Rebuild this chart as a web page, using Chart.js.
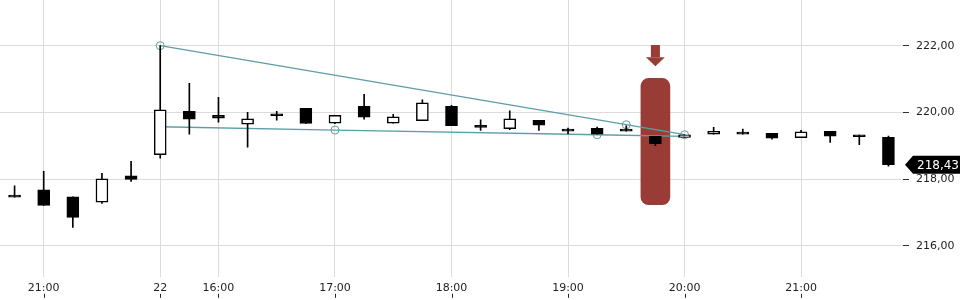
<!DOCTYPE html>
<html>
<head>
<meta charset="utf-8">
<script src="https://cdn.jsdelivr.net/npm/chart.js@4.4.0/dist/chart.umd.min.js"></script>
<style>
  body { margin: 0; background: #fff; }
  #wrap { width: 960px; height: 300px; }
</style>
</head>
<body>
<div id="wrap"><canvas id="myChart"></canvas></div>
<script>
// data

const times = ['20:45', '21:00', '21:15', '21:30', '21:45', '15:30', '15:45', '16:00', '16:15', '16:30', '16:45',
  '17:00', '17:15', '17:30', '17:45', '18:00', '18:15', '18:30', '18:45', '19:00', '19:15', '19:30', '19:45',
  '20:00', '20:15', '20:30', '20:45', '21:00', '21:15', '21:30', '21:45'];
const tickLabels = ['', '21:00', '', '', '', '22', '', '16:00', '', '', '', '17:00', '', '', '', '18:00', '', '', '',
  '19:00', '', '', '', '20:00', '', '', '', '21:00', '', '', ''];

const open = [217.51, 217.68, 217.47, 217.31, 218.10, 218.73, 220.03, 219.91, 219.65, 219.93, 220.12,
  219.68, 220.18, 219.68, 219.75, 220.18, 219.57, 219.51, 219.76, 219.46, 219.52, 219.48, 219.28,
  219.25, 219.35, 219.40, 219.37, 219.24, 219.43, 219.32, 219.25];
const high = [217.80, 218.23, 217.47, 218.17, 218.53, 222.00, 220.87, 220.45, 220.00, 220.03, 220.12,
  219.91, 220.54, 219.94, 220.38, 220.21, 219.78, 220.05, 219.76, 219.53, 219.56, 219.60, 219.28,
  219.33, 219.55, 219.50, 219.37, 219.46, 219.43, 219.32, 219.29];
const low = [217.46, 217.21, 216.55, 217.27, 217.93, 218.63, 219.35, 219.71, 218.96, 219.77, 219.67,
  219.66, 219.80, 219.68, 219.75, 219.60, 219.46, 219.48, 219.46, 219.36, 219.35, 219.44, 219.00,
  219.25, 219.35, 219.35, 219.20, 219.24, 219.10, 219.03, 218.39];
const close = [217.46, 217.21, 216.85, 218.01, 217.99, 220.08, 219.80, 219.83, 219.81, 219.90, 219.67,
  219.91, 219.86, 219.87, 220.29, 219.60, 219.55, 219.81, 219.62, 219.44, 219.35, 219.44, 219.06,
  219.33, 219.43, 219.35, 219.23, 219.42, 219.29, 219.27, 218.43];

// trend lines: [index, value]
const trendUpper = [[5, 222.00], [21, 219.63], [23, 219.33]];
const trendLower = [[5, 219.57], [11, 219.47], [20, 219.33], [23, 219.28]];
const trendUpperDots = [5, 21, 23];
const trendLowerDots = [11, 20];

// red marker
const markIndex = 22;
const markRange = [217.23, 221.02];
const arrowRange = [221.38, 222.02];

const yTicks = [216, 218, 220, 222];

Chart.defaults.font.family = 'DejaVu Sans';
Chart.defaults.font.size = 11;
Chart.defaults.color = '#222';

const teal = '#5c9ea6';
const gridColor = '#dcdcdc';

function toLine(points) {
  let arr = times.map(() => null);
  points.forEach(p => { arr[p[0]] = p[1]; });
  return arr;
}
function dotRadius(dots) {
  return times.map((t, i) => dots.includes(i) ? 4 : 0);
}
function fmt(v) {
  return v.toFixed(2).replace('.', ',');
}

// arrow above the marker + small x ticks + last price box
const extras = {
  id: 'extras',
  afterDatasetsDraw(chart) {
    const { ctx, scales } = chart;
    const x = scales.x.getPixelForValue(markIndex);
    const yTop = scales.y.getPixelForValue(arrowRange[1]);
    const yTip = scales.y.getPixelForValue(arrowRange[0]);
    const yMid = yTop + (yTip - yTop) * 0.57;
    ctx.save();
    ctx.fillStyle = '#993c35';
    ctx.fillRect(x - 4.5, yTop, 9, yMid - yTop);
    ctx.beginPath();
    ctx.moveTo(x - 9.5, yMid);
    ctx.lineTo(x + 9.5, yMid);
    ctx.lineTo(x, yTip);
    ctx.closePath();
    ctx.fill();
    ctx.restore();
  },
  afterDraw(chart) {
    const { ctx, scales, chartArea } = chart;
    ctx.save();
    // tick marks under the time labels
    ctx.strokeStyle = '#222';
    ctx.lineWidth = 1;
    tickLabels.forEach((l, i) => {
      if (!l) return;
      const x = Math.round(scales.x.getPixelForValue(i)) + 0.5;
      ctx.beginPath();
      ctx.moveTo(x, chartArea.bottom + 17);
      ctx.lineTo(x, chartArea.bottom + 21);
      ctx.stroke();
    });
    // last price
    const last = close[close.length - 1];
    const y = scales.y.getPixelForValue(last);
    const x0 = chartArea.right + 2;
    ctx.fillStyle = '#000';
    ctx.beginPath();
    ctx.moveTo(x0, y);
    ctx.lineTo(x0 + 8, y - 9);
    ctx.lineTo(chart.width, y - 9);
    ctx.lineTo(chart.width, y + 9);
    ctx.lineTo(x0 + 8, y + 9);
    ctx.closePath();
    ctx.fill();
    ctx.fillStyle = '#fff';
    ctx.font = '12px "DejaVu Sans"';
    ctx.textBaseline = 'middle';
    ctx.fillText(fmt(last), x0 + 12, y + 1);
    ctx.restore();
  }
};

const config = {
  type: 'bar',
  data: {
    labels: times,
    datasets: [
      {
        label: 'bodies',
        data: open.map((o, i) => [o, close[i]]),
        backgroundColor: open.map((o, i) => close[i] > o ? '#fff' : '#000'),
        borderColor: '#000',
        borderWidth: 1.5,
        borderSkipped: false,
        barThickness: 12,
        minBarLength: 2,
        grouped: false,
        order: 1
      },
      {
        label: 'wicks',
        data: low.map((l, i) => [l, high[i]]),
        backgroundColor: '#000',
        barThickness: 1,
        grouped: false,
        order: 2
      },
      {
        type: 'line',
        label: 'upper',
        data: toLine(trendUpper),
        spanGaps: true,
        borderColor: teal,
        borderWidth: 1.3,
        pointRadius: dotRadius(trendUpperDots),
        pointBorderColor: teal,
        pointBackgroundColor: 'rgba(0,0,0,0)',
        pointBorderWidth: 1,
        order: 5
      },
      {
        type: 'line',
        label: 'lower',
        data: toLine(trendLower),
        spanGaps: true,
        borderColor: teal,
        borderWidth: 1.3,
        pointRadius: dotRadius(trendLowerDots),
        pointBorderColor: teal,
        pointBackgroundColor: 'rgba(0,0,0,0)',
        pointBorderWidth: 1,
        order: 5
      },
      {
        label: 'marker',
        data: times.map((t, i) => i === markIndex ? markRange : null),
        backgroundColor: '#993c35',
        borderRadius: 8,
        borderSkipped: false,
        barThickness: 29,
        grouped: false,
        order: 10
      }
    ]
  },
  options: {
    responsive: true,
    maintainAspectRatio: false,
    animation: false,
    layout: { padding: { left: 0, right: 0, top: 0, bottom: 0 } },
    plugins: {
      legend: { display: false },
      tooltip: { enabled: false }
    },
    scales: {
      x: {
        offset: true,
        border: { display: false },
        grid: {
          offset: false,
          drawTicks: false,
          color: (c) => tickLabels[c.index] ? gridColor : 'rgba(0,0,0,0)'
        },
        ticks: {
          autoSkip: false,
          maxRotation: 0,
          padding: 5,
          callback: (v, i) => tickLabels[i]
        }
      },
      y: {
        position: 'right',
        min: 215.07,
        max: 223.37,
        border: { display: false },
        grid: { color: gridColor, tickColor: '#333', tickLength: 6 },
        afterBuildTicks: (s) => { s.ticks = yTicks.map(v => ({ value: v })); },
        afterFit: (s) => { s.width = 57; s.paddingTop = 0; s.paddingBottom = 0; },
        ticks: {
          padding: 7,
          callback: (v) => fmt(v)
        }
      }
    }
  },
  plugins: [extras]
};

let myChart = new Chart(document.getElementById('myChart').getContext('2d'), config);
</script>
</body>
</html>
